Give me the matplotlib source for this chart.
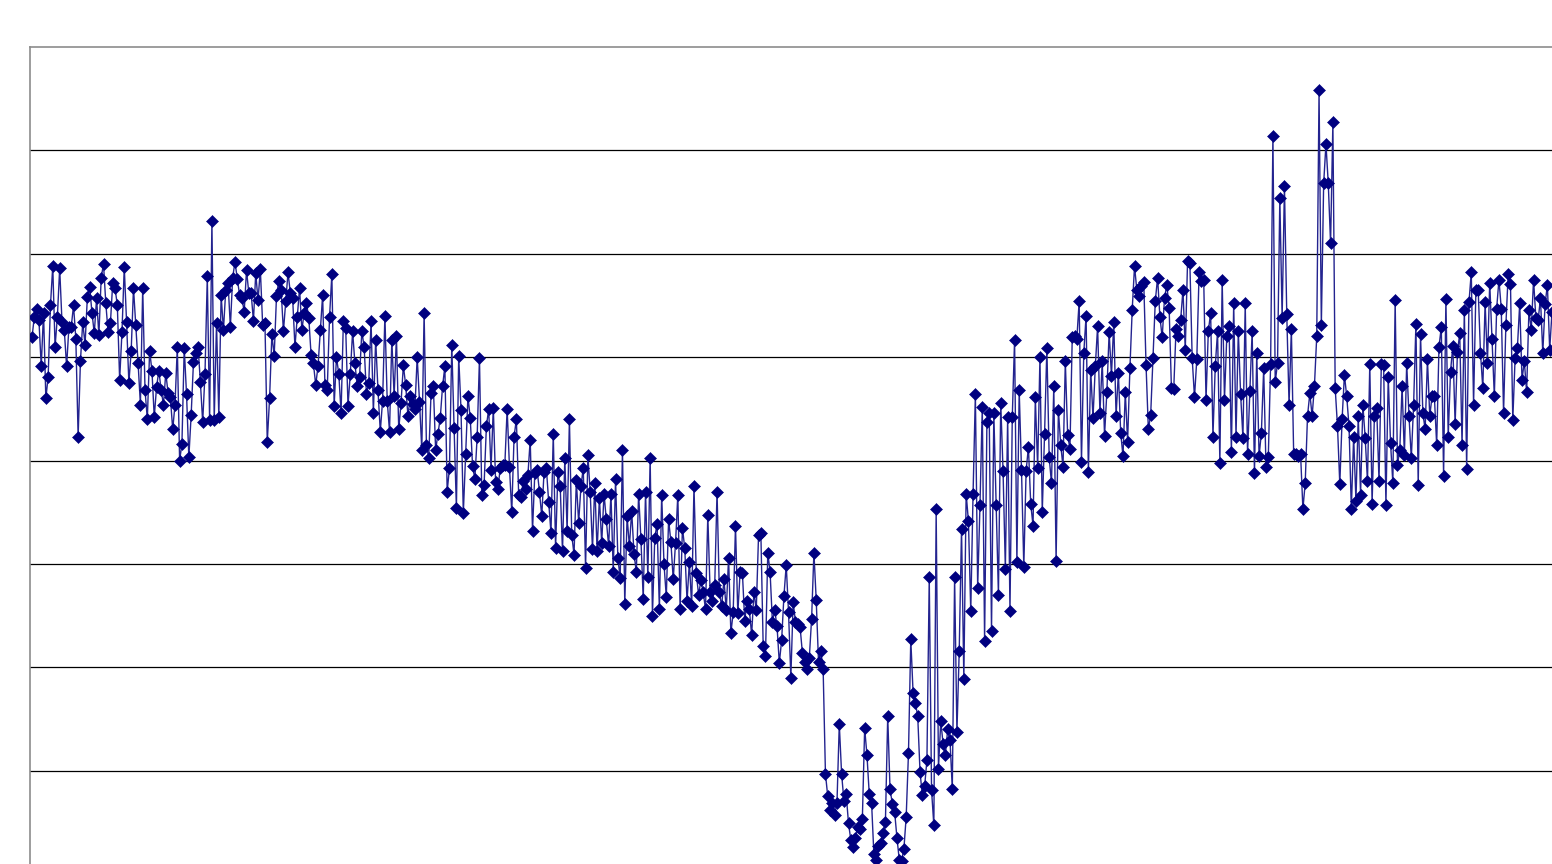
import numpy as np
import matplotlib
matplotlib.use("Agg")
import matplotlib.pyplot as plt

# values, in order; one list per stretch of the series
early = [
    5.19, 5.39, 5.47, 5.36, 4.91, 5.43, 4.60, 4.81, 5.50, 5.88,
    5.10, 5.39, 5.86, 5.34, 5.26, 4.91, 5.29, 5.29, 5.50, 5.18,
    4.23, 4.96, 5.34, 5.12, 5.58, 5.68, 5.43, 5.23, 5.57, 5.21,
    5.77, 5.90, 5.52, 5.24, 5.33, 5.72, 5.67, 5.50, 4.78, 5.24,
    5.87, 5.34, 4.75, 5.06, 5.67, 5.31, 4.94, 4.54, 5.67, 4.68,
    4.40, 5.06, 4.87, 4.42, 4.71, 4.87, 4.68, 4.54, 4.85, 4.65,
    4.61, 4.30, 4.54, 5.10, 4.00, 4.16, 5.09, 4.64, 4.03, 4.44,
    4.95, 5.04, 5.10, 4.76, 4.37, 4.84, 5.78, 4.39, 6.32, 4.39,
    5.33, 4.42, 5.60, 5.26, 5.65, 5.72, 5.29, 5.77, 5.92, 5.76,
    5.60, 5.57, 5.44, 5.84, 5.62,
]
decline_a = [
    5.62, 5.35, 5.81, 5.55, 5.85, 5.31, 5.33, 4.18, 4.60, 5.22,
    5.01, 5.59, 5.74, 5.65, 5.25, 5.54, 5.82, 5.62, 5.57, 5.10,
    5.39, 5.67, 5.26, 5.43, 5.52, 5.38, 5.02, 4.94, 4.73, 4.91,
    5.26, 5.60, 4.73, 4.68, 5.39, 5.80, 4.53, 5.00, 4.84, 4.46,
    5.35, 5.28, 4.53, 4.84, 5.25, 4.94, 4.72, 4.81, 5.25, 5.10,
    4.64, 4.75, 5.35, 4.46, 5.17, 4.68, 4.28, 4.58, 5.40, 4.58,
    4.28, 5.17, 4.62, 5.20, 4.30, 4.56, 4.92, 4.73, 4.43, 4.62,
    4.55, 4.50, 5.00, 4.57, 4.10, 5.43, 4.15, 4.02, 4.65, 4.72,
    4.10, 4.26, 4.41, 4.72, 4.91, 3.70, 3.93, 5.12, 4.31, 3.54,
    5.01, 4.49, 3.49, 4.06, 4.62, 4.41, 3.95, 3.82, 4.23, 4.99,
    3.67, 3.76, 4.33, 4.50, 3.91, 4.51, 3.79, 3.72, 3.93,
]
decline_b = [
    3.96, 3.96, 4.50, 3.94, 3.50, 4.23, 4.40, 3.67, 3.65, 3.80,
    3.72, 3.86, 4.20, 3.32, 3.88, 3.91, 3.70, 3.46, 3.89, 3.93,
    3.60, 3.30, 4.26, 3.15, 3.89, 3.75, 3.12, 4.02, 3.32, 4.40,
    3.28, 3.09, 3.81, 3.40, 3.75, 3.93, 2.96, 4.05, 3.70, 3.14,
    3.78, 3.12, 3.64, 3.20, 3.68, 3.43, 3.17, 3.68, 2.92, 3.82,
    3.06, 2.86, 4.10, 2.61, 3.46, 3.17, 3.51, 3.10, 2.92, 3.68,
    3.24, 2.66, 3.70, 2.87, 4.02, 2.50, 3.25, 3.39, 2.56, 3.67,
    3.00, 2.68, 3.43, 3.21, 2.85, 3.20, 3.67, 2.56, 3.35, 3.15,
    2.64, 3.02, 2.59, 3.75, 2.91, 2.70, 2.84, 2.73, 2.56, 3.47,
    2.73, 2.64, 2.80, 3.70, 2.73, 2.59, 2.85, 2.55, 3.06, 2.33,
    2.53, 3.37, 2.52, 2.92, 2.91, 2.45, 2.64, 2.56, 2.31, 2.73,
    2.55, 3.28,
]
trough = [
    3.30, 2.21, 2.11, 3.11, 2.92, 2.44, 2.55, 2.40, 2.04, 2.26,
    2.69, 2.99, 2.53, 1.90, 2.63, 2.44, 2.42, 2.39, 2.14, 2.05,
    1.98, 2.09, 2.47, 3.11, 2.65, 2.05, 2.16, 1.98, 0.97, 0.75,
    0.62, 0.69, 0.57, 0.69, 1.45, 0.97, 0.71, 0.77, 0.49, 0.33,
    0.26, 0.35, 0.45, 0.44, 0.53, 1.41, 1.15, 0.77, 0.69, 0.19,
    0.14, 0.27, 0.30, 0.40, 0.50, 1.53, 0.82, 0.68, 0.60, 0.35,
    0.14, 0.13, 0.24, 0.55, 1.17, 2.27, 1.75, 1.65, 1.53, 0.99,
    0.76, 0.85, 1.10, 2.87, 0.81, 0.47, 3.53, 1.02, 1.48, 1.26,
    1.15, 1.40, 1.30, 0.82, 2.87, 1.37, 2.16, 3.34, 1.89, 3.68,
    3.41, 2.54, 3.68, 4.64, 2.77, 3.57, 4.52, 2.25, 4.37, 4.46,
    2.35, 4.46, 3.57, 2.70, 4.56, 3.90, 2.95,
]
recovery = [
    4.42, 2.54, 4.42, 5.17, 3.02, 4.68, 3.91, 2.97, 3.90, 4.13,
    3.58, 3.37, 4.61, 3.93, 5.00, 3.50, 4.26, 5.09, 4.03, 3.78,
    4.72, 3.03, 4.49, 4.15, 3.94, 4.96, 4.25, 4.11, 5.19, 5.20,
    5.18, 5.54, 3.99, 5.04, 5.40, 3.89, 4.88, 4.41, 4.91, 5.30,
    4.46, 4.96, 4.24, 4.66, 5.24, 4.82, 5.34, 4.43, 4.85, 4.27,
    4.04, 4.66, 4.18, 4.89, 5.46, 5.88, 5.65, 5.59, 5.69, 5.73,
    4.92, 4.30, 4.44, 4.99, 5.54, 5.77, 5.39, 5.19, 5.57, 5.70,
    5.48, 4.70, 4.69, 5.27, 5.20, 5.36, 5.65, 5.07, 5.93, 5.91,
    4.99, 4.61, 4.98, 5.82, 5.74, 5.75, 4.59, 5.25, 5.43, 4.23,
    4.91, 5.25, 3.98, 5.75,
]
spikes = [
    4.59, 5.20, 5.30, 4.08, 5.52, 4.23, 5.25, 4.64, 4.22, 5.52,
    4.06, 4.67, 5.25, 3.88, 5.04, 4.04, 4.27, 4.89, 3.94, 4.03,
    4.93, 7.14, 4.76, 4.94, 6.54, 5.38, 6.66, 5.42, 4.54, 5.27,
    4.06, 4.06, 4.04, 4.06, 3.53, 3.78, 4.43, 4.65, 4.43, 4.72,
    5.20, 7.58, 5.31, 6.68, 7.06, 6.68, 6.10, 7.27, 4.70, 4.33,
    3.77, 4.40, 4.83, 4.62, 4.33, 3.53, 4.23, 3.61, 4.43, 3.67,
    4.54, 4.22, 3.80, 4.93, 3.58, 4.43, 4.51, 3.80, 4.93,
]
late = [
    4.92, 3.57, 4.81, 4.17, 3.78, 5.55, 3.96, 4.10, 4.72, 4.05,
    4.94, 4.43, 4.02, 4.54, 5.32, 3.76, 5.22, 4.46, 4.30, 4.98,
    4.43, 4.62, 4.62, 4.15, 5.10, 5.29, 3.85, 5.56, 4.23, 4.86,
    5.11, 4.35, 5.05, 5.23, 4.15, 5.46, 3.92, 5.53, 5.82, 4.54,
    5.65, 5.65, 5.04, 4.70, 5.53, 4.94, 5.72, 5.18, 4.62, 5.47,
    5.75, 5.47, 4.46, 5.31, 5.80, 5.71, 4.39, 4.99, 5.09, 5.52,
    4.78, 4.96, 4.66, 5.46, 5.26, 5.75, 5.38, 5.36, 5.57, 5.04,
    5.51, 5.70, 5.07, 5.44,
]
grid_levels = [1, 2, 3, 4, 5, 6, 7]

values = early + decline_a + decline_b + trough + recovery + spikes + late
x = np.arange(len(values))

W, H = 1552, 864
fig = plt.figure(figsize=(W / 100, H / 100), dpi=100)
# plot area: left edge at 30px, top at 47px, runs off the right and bottom of the picture
ax_w = W + 40 - 30
ax_h = 874 - 47
ax = fig.add_axes([30 / W, (H - 874) / H, ax_w / W, ax_h / H])

step = 1520 / (len(values) - 1)   # pixels between points
x0 = -2 / step
ax.set_xlim(x0, x0 + ax_w / step)
ax.set_ylim(0, 8)

ax.plot(x, values, color="#23238f", lw=1.0, marker="D", ms=6.0,
        mfc="#000080", mec="#000080", mew=0.4, zorder=3)

ax.set_yticks(grid_levels)
ax.grid(axis="y", color="black", lw=0.9)
ax.grid(axis="x", visible=False)
ax.set_axisbelow(True)
ax.set_xticks([])
ax.tick_params(left=False, labelleft=False)

for side in ["left", "top"]:
    ax.spines[side].set_color("#8c8c8c")
    ax.spines[side].set_linewidth(1.2)
for side in ["right", "bottom"]:
    ax.spines[side].set_visible(False)

fig.savefig("out.png", dpi=100, facecolor="white")
